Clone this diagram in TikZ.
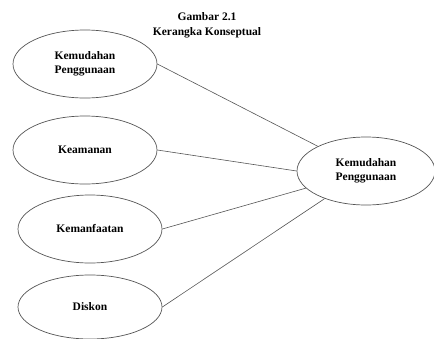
\documentclass[tikz,border=0pt]{standalone}
\usepackage{fontspec}
\setmainfont{Liberation Serif}
\usepackage{xcolor}
\usepackage{tikz}
\usetikzlibrary{shapes.geometric}
\definecolor{linegray}{HTML}{555555}
\tikzset{
  construct/.style={draw=linegray, ellipse, align=center, fill=white, line width=0.7pt, minimum width=144pt, minimum height=68pt, inner sep=0pt, font=\fontsize{11.5}{14}\selectfont\bfseries},
  caption/.style={align=center, font=\fontsize{11.5}{15}\selectfont\bfseries, inner sep=0pt},
  link/.style={draw=linegray, line width=0.6pt}
}

\begin{document}
\begin{tikzpicture}[x=1pt, y=-1pt]
  \useasboundingbox (0,0) rectangle (434,338);
  \node[caption] (title) at (207,25) {Gambar 2.1\\Kerangka Konseptual};

  \node[construct] (ease) at (85,64) {Kemudahan\\Penggunaan};
  \node[construct] (security) at (85,150) {Keamanan};
  \node[construct] (benefit) at (90,229) {Kemanfaatan};
  \node[construct, minimum height=64pt] (discount) at (90,307) {Diskon};

  \node[construct, minimum width=138pt] (outcome) at (366,171) {Kemudahan\\Penggunaan};

  \draw[link] (ease.east) -- (outcome);
  \draw[link] (security.east) -- (outcome.west);
  \draw[link] (benefit.east) -- (outcome);
  \draw[link] (discount.east) -- (outcome);
\end{tikzpicture}
\end{document}
